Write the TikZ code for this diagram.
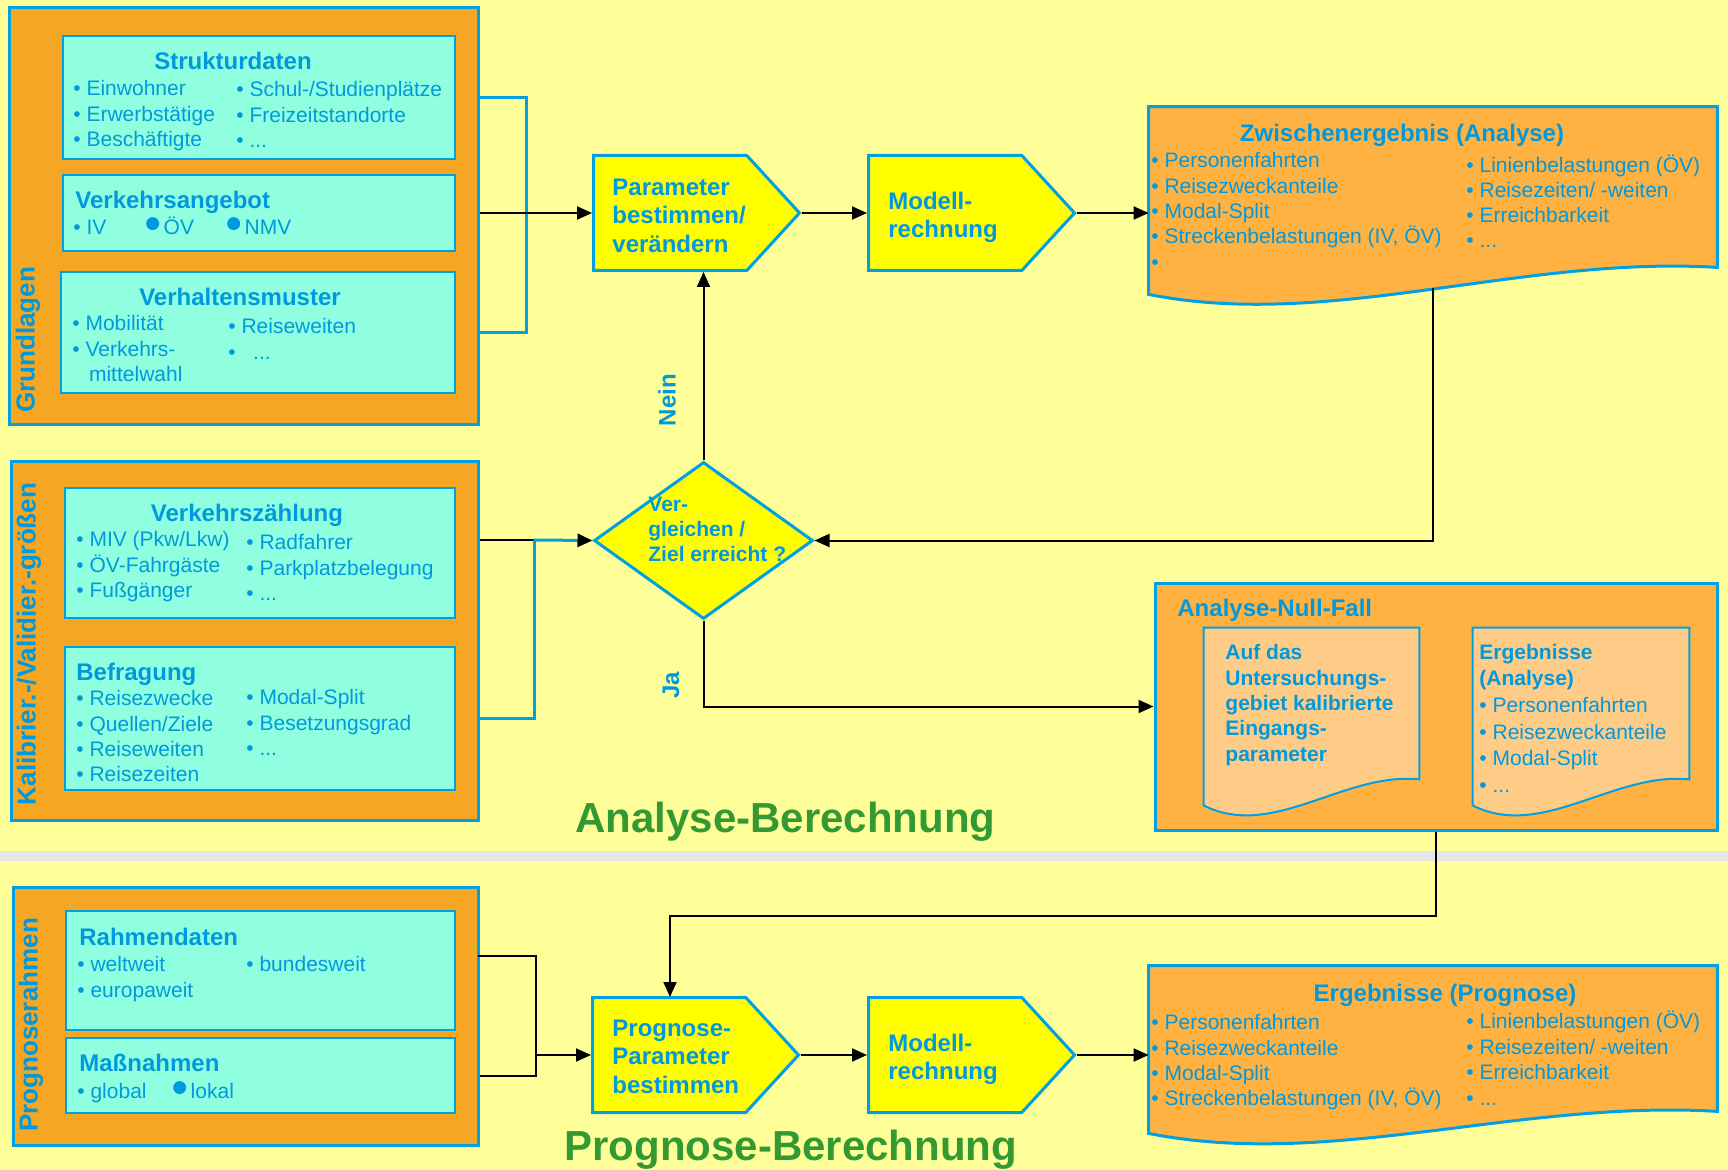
\documentclass[tikz,border=0pt]{standalone}
\usepackage{fontspec}
\setmainfont{Liberation Sans}
\newfontfamily\dotfont{DejaVu Sans}
\usetikzlibrary{calc, fit, arrows.meta, shapes.symbols, shapes.geometric}

\definecolor{bgyel}{HTML}{FFFF99}
\definecolor{frameorg}{HTML}{F5A623}
\definecolor{docorg}{HTML}{FFB142}
\definecolor{paperorg}{HTML}{FFCC88}
\definecolor{boxcyan}{HTML}{8FFFDF}
\definecolor{lineblue}{HTML}{00A0E3}
\definecolor{txtblue}{HTML}{0099DD}
\definecolor{stepyel}{HTML}{FFFF00}
\definecolor{headgreen}{HTML}{339933}
\definecolor{sepgray}{HTML}{E6E6E6}

\newcommand{\bigdot}{\raisebox{2.8pt}{\fontsize{8.5}{8.5}\dotfont ●}}

\tikzset{
  outerbox/.style={rectangle, draw=lineblue, line width=1.5pt, fill=frameorg, inner sep=0pt},
  databox/.style={rectangle, draw=lineblue, line width=1.2pt, fill=boxcyan, inner sep=0pt},
  docarea/.style={rectangle, inner sep=0pt},
  docline/.style={draw=lineblue, line width=1.5pt},
  stepsig/.style={shape=signal, signal to=east, signal pointer angle=95, draw=lineblue,
    line width=1.5pt, fill=stepyel, minimum width=103pt, minimum height=57.5pt, inner sep=0pt},
  steptxt/.style={anchor=north west, align=left, text=txtblue, inner sep=0pt,
    font=\bfseries\fontsize{12}{14.2}\selectfont},
  decide/.style={shape=diamond, draw=lineblue, line width=1.5pt, fill=stepyel,
    minimum width=109.5pt, minimum height=78.5pt, inner sep=0pt},
  hd/.style={text=txtblue, font=\bfseries\fontsize{12}{14}\selectfont, inner sep=0pt},
  items/.style={anchor=north west, align=left, text=txtblue,
    font=\fontsize{10.5}{12.7}\selectfont, inner sep=0pt},
  oneitem/.style={anchor=base west, text=txtblue, font=\fontsize{10.5}{12.7}\selectfont, inner sep=0pt},
  bitems/.style={items, font=\bfseries\fontsize{10.5}{12.7}\selectfont},
  sidelbl/.style={rotate=90, text=txtblue, font=\bfseries\fontsize{13}{15}\selectfont, inner sep=0pt},
  flowlbl/.style={rotate=90, text=txtblue, font=\bfseries\fontsize{12}{14}\selectfont, inner sep=0pt},
  bigtitle/.style={anchor=base west, text=headgreen, font=\bfseries\fontsize{21}{24}\selectfont, inner sep=0pt},
  flow/.style={draw=black, line width=1pt},
  blueline/.style={draw=lineblue, line width=1.5pt},
  >={Triangle[length=7.5pt, width=6.5pt]},
}

\begin{document}
\begin{tikzpicture}[x=0.5pt, y=-0.5pt]
\fill[bgyel] (0,0) rectangle (1728,1170);
\useasboundingbox (0,0) rectangle (1728,1170);
\fill[sepgray] (0,851) rectangle (1728,861);

% Grundlagen
\node[outerbox, fit={(9,8) (478,425)}] (grund) {};
\node[databox, fit={(63,36) (455,159)}] (struk) {};
\node[databox, fit={(63,175) (455,251)}] (angebot) {};
\node[databox, fit={(61,272) (455,393)}] (verhalt) {};
\node[sidelbl] (grundlbl) at (28,340) {Grundlagen};

\node[hd, anchor=base] (strukhd) at (233,69.5) {Strukturdaten};
\node[items] (struk-l) at (73,80) {• Einwohner\\• Erwerbstätige\\• Beschäftigte};
\node[items] (struk-r) at (236,81) {• Schul-/Studienplätze\\• Freizeitstandorte\\• ...};

\node[hd, anchor=base west] (angebothd) at (75,208.5) {Verkehrsangebot};
\node[oneitem] (ang-1) at (73,234.5) {• IV};
\node[oneitem] (ang-2) at (145,234.5) {\bigdot\,ÖV};
\node[oneitem] (ang-3) at (226,234.5) {\bigdot\,NMV};

\node[hd, anchor=base] (verhalthd) at (240,305.5) {Verhaltensmuster};
\node[items] (verh-l) at (72,315) {• Mobilität\\• Verkehrs-\\\phantom{•}\ \,mittelwahl};
\node[items] (verh-r) at (228,318) {• Reiseweiten\\• \ \ ...};

% Kalibrier-/Validiergroessen
\node[outerbox, fit={(11,462) (478,820)}] (kalib) {};
\node[databox, fit={(65,488) (455,618)}] (zaehl) {};
\node[databox, fit={(65,647) (455,790)}] (befr) {};
\node[sidelbl] (kaliblbl) at (29,644) {Kalibrier.-/Validier.-größen};

\node[hd, anchor=base] (zaehlhd) at (247,521.5) {Verkehrszählung};
\node[items] (zaehl-l) at (76,531) {• MIV (Pkw/Lkw)\\• ÖV-Fahrgäste\\• Fußgänger};
\node[items] (zaehl-r) at (246,534) {• Radfahrer\\• Parkplatzbelegung\\• ...};

\node[hd, anchor=base west] (befrhd) at (76,680.5) {Befragung};
\node[items] (befr-l) at (76,690) {• Reisezwecke\\• Quellen/Ziele\\• Reiseweiten\\• Reisezeiten};
\node[items] (befr-r) at (246,689) {• Modal-Split\\• Besetzungsgrad\\• ...};

% Prognoserahmen
\node[outerbox, fit={(13,887) (478,1145)}] (progr) {};
\node[databox, fit={(66,911) (455,1030)}] (rahmen) {};
\node[databox, fit={(66,1038) (455,1113)}] (massn) {};
\node[sidelbl] (progrlbl) at (31,1025) {Prognoserahmen};

\node[hd, anchor=base west] (rahmenhd) at (79,945.5) {Rahmendaten};
\node[items] (rahm-l) at (77,956) {• weltweit\\• europaweit};
\node[items] (rahm-r) at (246,956) {• bundesweit};

\node[hd, anchor=base west] (massnhd) at (79,1071.5) {Maßnahmen};
\node[oneitem] (mass-1) at (77,1098.5) {• global};
\node[oneitem] (mass-2) at (172,1098.5) {\bigdot\,lokal};

% Analyse-Berechnung
\node[stepsig, anchor=west] (par) at (592,213) {};
\node[steptxt] (partxt) at (612,178.5) {Parameter\\bestimmen/\\verändern};
\node[stepsig, anchor=west] (mod) at (867,213) {};
\node[steptxt] (modtxt) at (888,191.5) {Modell-\\rechnung};
\node[decide] (cmp) at (703.5,540.5) {};
\node[bitems, font=\bfseries\fontsize{10.5}{12.5}\selectfont] (cmptxt) at (648,497) {Ver-\\gleichen /\\Ziel erreicht ?};
\node[flowlbl] (nein) at (667,400) {Nein};
\node[flowlbl] (ja) at (671,685) {Ja};

\node[docarea, fit={(1149,107) (1717,267)}] (zw) {};
\draw[docline, fill=docorg] (zw.north west) -- (zw.north east) -- (zw.south east)
  .. controls +(-197,-12) and +(181,36) .. ($(zw.south west)+(0,27)$) -- cycle;
\node[hd, anchor=base] (zwhd) at (1402,141.5) {Zwischenergebnis (Analyse)};
\node[items] (zw-l) at (1151,152) {• Personenfahrten\\• Reisezweckanteile\\• Modal-Split\\• Streckenbelastungen (IV, ÖV)\\•};
\node[items, font=\fontsize{10.5}{12.5}\selectfont] (zw-r) at (1466,155) {• Linienbelastungen (ÖV)\\• Reisezeiten/ -weiten\\• Erreichbarkeit\\• ...};

\node[outerbox, fill=docorg, fit={(1155,583) (1717,830)}] (null) {};
\node[hd, anchor=base west] (nullhd) at (1177,616) {Analyse-Null-Fall};
\node[docarea, fit={(1204,628) (1419,779)}] (nullA) {};
\draw[docline, line width=1pt, fill=paperorg] (nullA.north west) -- (nullA.north east) -- (nullA.south east)
  .. controls +(-75,-8) and +(69,35) .. ($(nullA.south west)+(0,26)$) -- cycle;
\node[docarea, fit={(1473,628) (1689,779)}] (nullB) {};
\draw[docline, line width=1pt, fill=paperorg] (nullB.north west) -- (nullB.north east) -- (nullB.south east)
  .. controls +(-75,-8) and +(69,35) .. ($(nullB.south west)+(0,26)$) -- cycle;
\node[bitems] (nullA-t) at (1225,644) {Auf das\\Untersuchungs-\\gebiet kalibrierte\\Eingangs-\\parameter};
\node[bitems] (nullB-t) at (1479,644) {Ergebnisse\\(Analyse)};
\node[items, font=\fontsize{10.5}{13.3}\selectfont] (nullB-l) at (1479,697) {• Personenfahrten\\• Reisezweckanteile\\• Modal-Split\\• ...};

\node[bigtitle] (anatitle) at (575,832) {Analyse-Berechnung};

% Prognose-Berechnung
\node[stepsig, anchor=west] (ppar) at (591,1055) {};
\node[steptxt] (ppartxt) at (612,1019.5) {Prognose-\\Parameter\\bestimmen};
\node[stepsig, anchor=west] (pmod) at (867,1055) {};
\node[steptxt] (pmodtxt) at (888,1033.5) {Modell-\\rechnung};

\node[docarea, fit={(1149,966) (1717,1111)}] (erg) {};
\draw[docline, fill=docorg] (erg.north west) -- (erg.north east) -- (erg.south east)
  .. controls +(-197,-12) and +(181,36) .. ($(erg.south west)+(0,22)$) -- cycle;
\node[hd, anchor=base] (erghd) at (1445,1001.5) {Ergebnisse (Prognose)};
\node[items] (erg-l) at (1151,1014) {• Personenfahrten\\• Reisezweckanteile\\• Modal-Split\\• Streckenbelastungen (IV, ÖV)};
\node[items] (erg-r) at (1466,1011) {• Linienbelastungen (ÖV)\\• Reisezeiten/ -weiten\\• Erreichbarkeit\\• ...};

\node[bigtitle] (prgtitle) at (564,1160) {Prognose-Berechnung};

% connectors
\draw[blueline] (struk.east -| grund.east) -- ++(47,0) |- (verhalt.east -| grund.east);
\draw[flow, ->] (par.west -| grund.east) -- (par.west);

\coordinate (kj) at (534,540);
\draw[flow] (kj -| kalib.east) -- (kj);
\draw[blueline] (kj) |- (befr.east -| kalib.east);
\draw[blueline, -{Triangle[length=7.5pt, width=6.5pt, color=black]}] (kj) -- (cmp.west);

\coordinate (pt) at (478,956);
\coordinate (pj) at (536,1055);
\draw[flow] (pt) -| (pj) |- (massn.east -| progr.east);
\draw[flow, ->] (pj) -- (ppar.west);

\draw[flow, ->] (par.east) -- (mod.west);
\draw[flow, ->] (mod.east) -- (mod.east -| zw.west);
\draw[flow, ->] (ppar.east) -- (pmod.west);
\draw[flow, ->] (pmod.east) -- (pmod.east -| erg.west);

\coordinate (zwout) at (1433,288);
\draw[flow, ->] (zwout) |- (cmp.east);
\draw[flow, ->] (cmp.north) -- (cmp.north |- par.south);
\draw[flow, ->] (cmp.south) |- (null.west);

\coordinate (pin) at (670,997);
\draw[flow, ->] (null.south) -- ++(0,84) -| (pin);
\end{tikzpicture}
\end{document}
